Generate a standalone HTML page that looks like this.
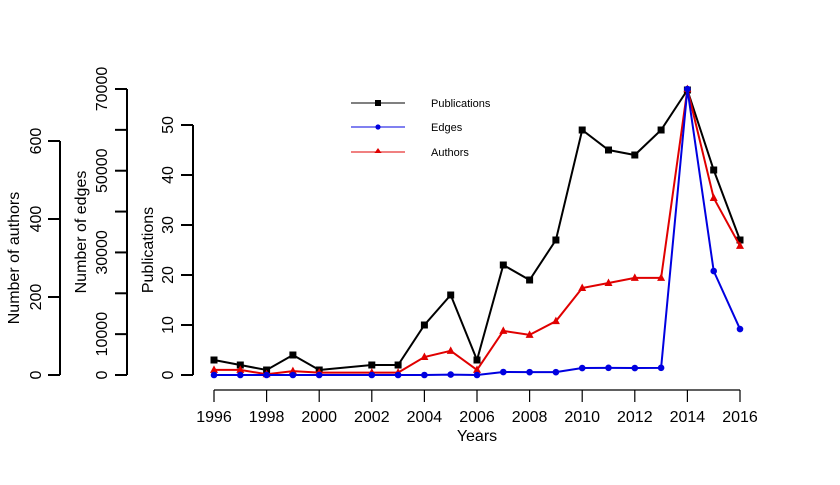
<!DOCTYPE html>
<html><head><meta charset="utf-8"><style>
body{margin:0;background:#fff;}
svg{display:block;font-family:"Liberation Sans",Arial,sans-serif;}
</style></head><body>
<svg id="c" width="840" height="485" viewBox="0 0 840 485"></svg>
<script>
const years=[1996,1997,1998,1999,2000,2002,2003,2004,2005,2006,2007,2008,2009,2010,2011,2012,2013,2014,2015,2016];
const publications=[3,2,1,4,1,2,2,10,16,3,22,19,27,49,45,44,49,57,41,27];
const edges=[0,0,0,0,0,0,0,0,100,0,730,700,700,1700,1750,1700,1750,70000,25450,11250];
const authors=[13,13,2,10,6,6,6,46,62,13,113,103,138,223,236,249,249,733,454,331];
const xTicks=[1996,1998,2000,2002,2004,2006,2008,2010,2012,2014,2016];
const pubTicks=[0,10,20,30,40,50];
const edgeTicks=[0,10000,20000,30000,40000,50000,60000,70000];
const edgeLabels=[0,10000,30000,50000,70000];
const authTicks=[0,200,400,600];

const NS="http://www.w3.org/2000/svg";
const svg=document.getElementById('c');
function mk(t,a,p){const e=document.createElementNS(NS,t);for(const k in a)e.setAttribute(k,a[k]);(p||svg).appendChild(e);return e;}
const X=y=>214+(y-1996)*26.3;
const Yp=v=>375-v*5;
const Ye=v=>375-v*286/70000;
const Ya=v=>375-v*0.39;
const FS=16;

let g=mk('g',{});


mk('line',{x1:X(1996),x2:X(2016),y1:390,y2:390,stroke:'#000','stroke-width':1.2},g);
xTicks.forEach(t=>{
  mk('line',{x1:X(t),x2:X(t),y1:390,y2:402,stroke:'#000','stroke-width':1.2},g);
  const tx=mk('text',{x:X(t),y:422,'text-anchor':'middle','font-size':FS},g);tx.textContent=t;
  
  
});
let xt=mk('text',{x:477,y:441,'text-anchor':'middle','font-size':FS});xt.textContent='Years';



function yAxis(name,ax,ticks,labels,sc,lx,title,tx){
  const g=mk('g',{});
  
  
  mk('line',{x1:ax,x2:ax,y1:sc(ticks[ticks.length-1]),y2:sc(ticks[0]),stroke:'#000','stroke-width':2},g);
  ticks.forEach(t=>mk('line',{x1:ax-12,x2:ax,y1:sc(t),y2:sc(t),stroke:'#000','stroke-width':2},g));
  labels.forEach(t=>{const e=mk('text',{x:lx,y:sc(t),'text-anchor':'middle','font-size':FS,transform:`rotate(-90 ${lx} ${sc(t)})`},g);e.textContent=t;
    
    });
  const ty=(sc(ticks[0])+sc(ticks[ticks.length-1]))/2;
  const e=mk('text',{x:tx,y:ty,'text-anchor':'middle','font-size':FS,transform:`rotate(-90 ${tx} ${ty})`},g);e.textContent=title;
  
  
}
yAxis('authors-axis',60,authTicks,authTicks,Ya,41,'Number of authors',19);
yAxis('edges-axis',127,edgeTicks,edgeLabels,Ye,107,'Number of edges',86);
yAxis('publications-axis',193,pubTicks,pubTicks,Yp,173,'Publications',153);

function series(name,vals,sc,color,shape){
  const g=mk('g',{});
  
  
  const pts=vals.map((v,i)=>X(years[i])+','+sc(v)).join(' ');
  mk('polyline',{points:pts,fill:'none',stroke:color,'stroke-width':2},g);
  vals.forEach((v,i)=>{
    const x=X(years[i]),y=sc(v);let m;
    if(shape==='sq')m=mk('rect',{x:x-3.5,y:y-3.5,width:7,height:7,fill:color},g);
    else if(shape==='c')m=mk('circle',{cx:x,cy:y,r:3.3,fill:color},g);
    else m=mk('polygon',{points:`${x},${y-4.5} ${x-4},${y+3} ${x+4},${y+3}`,fill:color},g);
    
    
  });
}
series('publications-series',publications,Yp,'#000','sq');
series('authors-series',authors,Ya,'#e00000','t');
series('edges-series',edges,Ye,'#0000e0','c');

const L=mk('g',{});


[['Publications','#000','sq',103],['Edges','#0000e0','c',127],['Authors','#e00000','t',152]].forEach(([n,c,s,y])=>{
  const e=mk('g',{},L);
  
  
  mk('line',{x1:351,x2:405,y1:y,y2:y,stroke:c,'stroke-width':1},e);
  if(s==='sq')mk('rect',{x:375,y:y-3,width:6,height:6,fill:c},e);
  else if(s==='c')mk('circle',{cx:378,cy:y,r:2.6,fill:c},e);
  else mk('polygon',{points:`378,${y-4} 374.5,${y+1} 381.5,${y+1}`,fill:c},e);
  const t=mk('text',{x:431,y:y+4,'font-size':11},e);t.textContent=n;
});
</script>
</body></html>
